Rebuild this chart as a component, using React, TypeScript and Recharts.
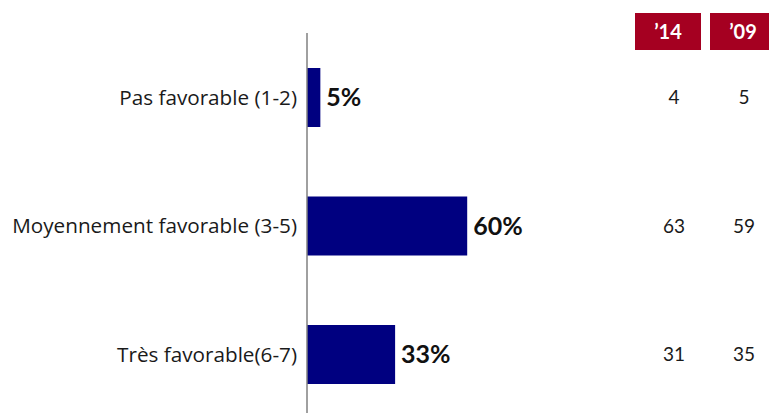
import { BarChart, Bar, XAxis, YAxis, LabelList } from 'recharts';

const categories = ['Pas favorable (1-2)', 'Moyennement favorable (3-5)', 'Très favorable(6-7)'];
const values2019 = [5, 60, 33];
const values2014 = [4, 63, 31];
const values2009 = [5, 59, 35];
const columnHeaders = ['’14', '’09'];

const data = categories.map((name, i) => ({
  name,
  value: values2019[i],
  y14: values2014[i],
  y09: values2009[i],
}));

const FONT = 'Lato, "Open Sans", sans-serif';

// draws a side column number aligned with each bar's center
const sideColumn = (cx: number) => (props: any) => {
  const { y, height, value } = props;
  return (
    <text
      x={cx}
      y={Number(y) + Number(height) / 2}
      dy="0.36em"
      textAnchor="middle"
      fontSize={19}
      fontFamily={FONT}
      fill="#1a1a1a"
    >
      {value}
    </text>
  );
};

export default function App() {
  return (
    <div style={{ position: 'absolute', top: 0, left: 0, width: 769, height: 413, overflow: 'hidden', background: '#fff' }}>
      {columnHeaders.map((h, i) => (
        <div
          key={h}
          style={{
            position: 'absolute',
            top: 13,
            left: i === 0 ? 635 : 710,
            width: 66,
            height: 37,
            background: '#A50021',
            color: '#fff',
            fontFamily: FONT,
            fontWeight: 700,
            fontSize: 20,
            lineHeight: '37px',
            textAlign: 'center',
          }}
        >
          {h}
        </div>
      ))}
      <BarChart
        width={769}
        height={420}
        data={data}
        layout="vertical"
        margin={{ top: 33, right: 195, left: 0, bottom: 1.5 }}
      >
        <XAxis type="number" domain={[0, 100]} hide />
        <YAxis
          type="category"
          dataKey="name"
          width={307}
          axisLine={{ stroke: '#808080', strokeWidth: 1.5 }}
          tickLine={false}
          tickSize={0}
          tickMargin={10}
          tick={{ fontSize: 20.7, fontFamily: '"Open Sans", sans-serif', fill: '#1a1a1a' }}
        />
        <Bar dataKey="value" fill="#000080" barSize={59} isAnimationActive={false}>
          <LabelList
            dataKey="value"
            position="right"
            offset={6}
            formatter={(v: any) => `${v}%`}
            style={{ fontSize: 25, fontWeight: 700, fontFamily: FONT, fill: '#111' }}
          />
          <LabelList dataKey="y14" content={sideColumn(674)} />
          <LabelList dataKey="y09" content={sideColumn(744)} />
        </Bar>
      </BarChart>
    </div>
  );
}
